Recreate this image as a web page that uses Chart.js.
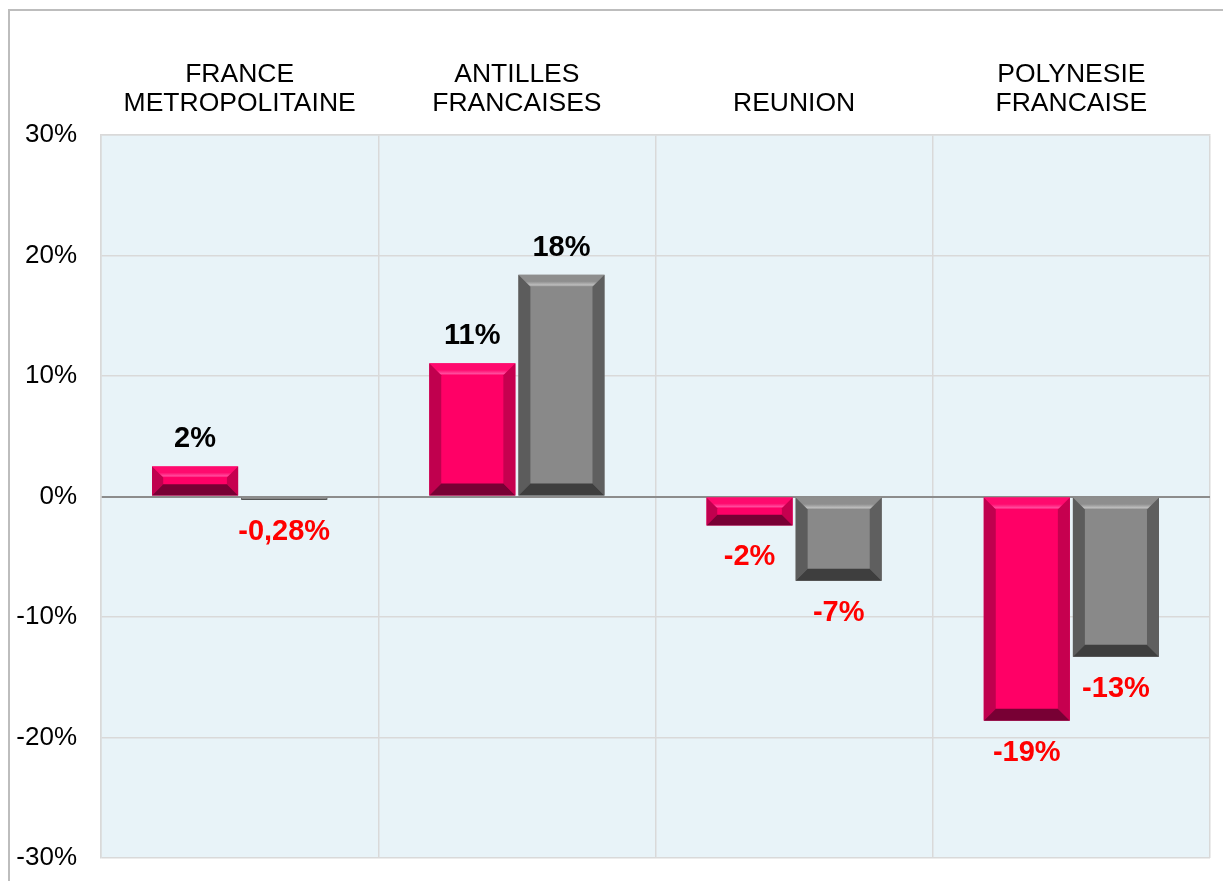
<!DOCTYPE html>
<html>
<head>
<meta charset="utf-8">
<script src="https://cdn.jsdelivr.net/npm/chart.js@4.4.1/dist/chart.umd.min.js"></script>
<style>
  html, body { margin: 0; padding: 0; background: #fff; }
  #wrap { position: relative; width: 1223px; height: 881px; }
  #frame { position: absolute; left: 8px; top: 9px; right: -5px; bottom: -5px;
           border-left: 2px solid #BDBDBD; border-top: 2px solid #BDBDBD; pointer-events: none; }
  canvas { position: absolute; left: 0; top: 0; }
</style>
</head>
<body>
<div id="wrap">
  <canvas id="c" width="1223" height="881"></canvas>
  <div id="frame"></div>
</div>
<script>
const categories = [["FRANCE", "METROPOLITAINE"], ["ANTILLES", "FRANCAISES"], ["REUNION"], ["POLYNESIE", "FRANCAISE"]];
const seriesA = [2.5, 11.05, -2.4, -18.6];
const seriesB = [-0.28, 18.4, -7.0, -13.3];
const labelsA = ["2%", "11%", "-2%", "-19%"];
const labelsB = ["-0,28%", "18%", "-7%", "-13%"];
const yTicks = [-30, -20, -10, 0, 10, 20, 30];

const FONT = "'Liberation Sans', Arial, sans-serif";

const bgPlugin = {
  id: 'bg',
  beforeDraw(chart) {
    const a = chart.chartArea, ctx = chart.ctx;
    ctx.save();
    ctx.fillStyle = '#E8F3F8';
    ctx.fillRect(a.left, a.top, a.right - a.left, a.bottom - a.top);
    ctx.restore();
  }
};

const palettes = [
  { face: '#FF0066', topOuter: '#FF0A6E', topInner: '#FF4A9C', left: '#C0004E', right: '#C6004F', bottom: '#780034' },
  { face: '#898989', topOuter: '#8E8E8E', topInner: '#BDBDBD', left: '#5C5C5C', right: '#5F5F5F', bottom: '#3E3E3E' }
];

function poly(ctx, pts, fill) {
  ctx.beginPath();
  ctx.moveTo(pts[0][0], pts[0][1]);
  for (let i = 1; i < pts.length; i++) ctx.lineTo(pts[i][0], pts[i][1]);
  ctx.closePath();
  ctx.fillStyle = fill;
  ctx.fill();
}

const bevelPlugin = {
  id: 'bevel',
  afterDatasetsDraw(chart) {
    const ctx = chart.ctx;
    chart.data.datasets.forEach((ds, di) => {
      const meta = chart.getDatasetMeta(di);
      const p = palettes[di];
      meta.data.forEach((el) => {
        const l = el.x - el.width / 2, r = el.x + el.width / 2;
        const t = Math.min(el.y, el.base), bt = Math.max(el.y, el.base);
        const h = bt - t, w = r - l;
        const b = Math.max(0, Math.min(12, h / 2.6, w / 2));
        ctx.save();
        ctx.fillStyle = p.face;
        ctx.fillRect(l, t, w, h);
        if (b > 0.5) {
          const g = ctx.createLinearGradient(0, t, 0, t + b);
          g.addColorStop(0, p.topOuter);
          g.addColorStop(0.55, p.topOuter);
          g.addColorStop(0.85, p.topInner);
          g.addColorStop(1, p.face);
          poly(ctx, [[l, t], [r, t], [r - b, t + b], [l + b, t + b]], g);
          poly(ctx, [[l, t], [l + b, t + b], [l + b, bt - b], [l, bt]], p.left);
          poly(ctx, [[r, t], [r - b, t + b], [r - b, bt - b], [r, bt]], p.right);
          poly(ctx, [[l, bt], [l + b, bt - b], [r - b, bt - b], [r, bt]], p.bottom);
        } else {
          ctx.fillStyle = p.bottom;
          ctx.fillRect(l, t, w, h);
        }
        ctx.restore();
      });
    });
  }
};

const labelPlugin = {
  id: 'vlabels',
  afterDatasetsDraw(chart) {
    const ctx = chart.ctx;
    const texts = [labelsA, labelsB];
    ctx.save();
    ctx.font = "bold 29px " + FONT;
    ctx.textAlign = 'center';
    ctx.textBaseline = 'middle';
    chart.data.datasets.forEach((ds, di) => {
      const meta = chart.getDatasetMeta(di);
      meta.data.forEach((el, i) => {
        const v = ds.data[i];
        let y;
        if (v >= 0) { ctx.fillStyle = '#000000'; y = Math.min(el.y, el.base) - 27; }
        else { ctx.fillStyle = '#FF0000'; y = Math.max(el.y, el.base) + 32; }
        ctx.fillText(texts[di][i], el.x, y);
      });
    });
    ctx.restore();
  }
};

new Chart(document.getElementById('c'), {
  type: 'bar',
  data: {
    labels: categories,
    datasets: [
      { label: 'A', data: seriesA, backgroundColor: 'rgba(0,0,0,0)', borderWidth: 0 },
      { label: 'B', data: seriesB, backgroundColor: 'rgba(0,0,0,0)', borderWidth: 0 }
    ]
  },
  options: {
    responsive: false,
    animation: false,
    devicePixelRatio: 1,
    layout: { padding: { left: 0, right: 13, top: 0, bottom: 23 } },
    plugins: { legend: { display: false }, tooltip: { enabled: false }, title: { display: false } },
    datasets: { bar: { categoryPercentage: 0.643, barPercentage: 0.966 } },
    scales: {
      x: {
        position: 'top',
        grid: { offset: true, color: '#D9D9D9', lineWidth: 1.5, drawTicks: false },
        border: { display: true, color: '#D9D9D9', width: 1.5 },
        ticks: { color: '#000', font: { family: FONT, size: 26.5, lineHeight: 1.1 }, padding: 17, maxRotation: 0, autoSkip: false },
        afterFit(scale) { scale.height = 135; scale.paddingLeft = 0; scale.paddingRight = 0; }
      },
      y: {
        min: -30, max: 30,
        afterBuildTicks(scale) { scale.ticks = yTicks.map(v => ({ value: v })); },
        grid: {
          color: (c) => (c.tick && c.tick.value === 0) ? '#8C8C8C' : '#D9D9D9',
          lineWidth: (c) => (c.tick && c.tick.value === 0) ? 2 : 1.5,
          drawTicks: false
        },
        border: { display: true, color: '#D9D9D9', width: 1.5 },
        ticks: { color: '#000', font: { family: FONT, size: 26 }, padding: 24, callback: (v) => v + '%' },
        afterFit(scale) { scale.width = 101; scale.paddingTop = 0; scale.paddingBottom = 0; }
      }
    }
  },
  plugins: [bgPlugin, bevelPlugin, labelPlugin]
});
</script>
</body>
</html>
